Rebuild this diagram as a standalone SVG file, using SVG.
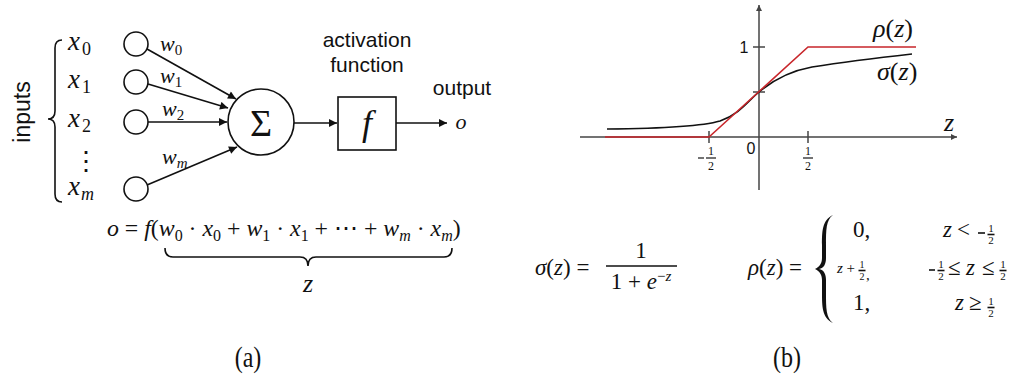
<svg xmlns="http://www.w3.org/2000/svg" width="1028" height="380" viewBox="0 0 1028 380">
<defs>
<style>
.sans{font-family:"Liberation Sans",Arial,sans-serif;fill:#111}
.m{font-family:"Liberation Serif","Times New Roman",serif;fill:#111}
.i{font-style:italic}
.ln{stroke:#111;stroke-width:1.6;fill:none}
.ax{stroke:#444;stroke-width:1.5;fill:none}
.red{stroke:#c8262b;stroke-width:1.6;fill:none}
</style>
<marker id="ah" viewBox="0 0 10 10" refX="10" refY="5" markerWidth="9" markerHeight="8" markerUnits="userSpaceOnUse" orient="auto">
<path d="M0,0 L10,5 L0,10 z" fill="#111"/>
</marker>
<marker id="ah2" viewBox="0 0 10 10" refX="10" refY="5" markerWidth="7" markerHeight="6" markerUnits="userSpaceOnUse" orient="auto">
<path d="M0,0 L10,5 L0,10 z" fill="#444"/>
</marker>
</defs>
<rect width="1028" height="380" fill="#fff"/>

<!-- Panel (a) -->
<g id="inputs-label">
<text class="sans" font-size="23" transform="translate(30,112) rotate(-90)" text-anchor="middle">inputs</text>
<path class="ln" stroke-width="1.3" d="M62,40 Q55,40 55,48 L55,111 Q55,119 48,119 Q55,119 55,127 L55,194 Q55,202 62,202"/>
</g>
<g id="x-labels" class="m i" font-size="27">
<text x="68" y="50">x<tspan font-style="normal" font-size="18" dx="2" dy="5">0</tspan></text>
<text x="68" y="88">x<tspan font-style="normal" font-size="18" dx="2" dy="5">1</tspan></text>
<text x="68" y="127">x<tspan font-style="normal" font-size="18" dx="2" dy="5">2</tspan></text>
<text x="73" y="170" font-style="normal" font-size="26">⋮</text>
<text x="68" y="195">x<tspan font-size="18" dx="1" dy="5">m</tspan></text>
</g>
<g id="in0"><circle class="ln" cx="136" cy="44" r="12"/></g>
<g id="in1"><circle class="ln" cx="136" cy="82" r="12"/></g>
<g id="in2"><circle class="ln" cx="136" cy="122" r="12"/></g>
<g id="inm"><circle class="ln" cx="136" cy="189" r="12"/></g>
<g id="sum">
<circle class="ln" cx="261" cy="122" r="33"/>
<text class="m" x="261" y="136" font-size="38" text-anchor="middle">Σ</text>
</g>
<g id="act">
<text class="sans" x="367" y="47" font-size="21" text-anchor="middle">activation</text>
<text class="sans" x="367" y="72" font-size="21" text-anchor="middle">function</text>
<rect class="ln" x="338" y="97" width="58" height="53"/>
<text class="m i" x="367" y="135" font-size="36" text-anchor="middle">f</text>
</g>
<g id="out">
<text class="sans" x="462" y="95" font-size="21" text-anchor="middle">output</text>
<text class="m i" x="461" y="129" font-size="22" text-anchor="middle">o</text>
</g>
<g id="connectors">
<line class="ln" x1="147" y1="49" x2="236" y2="99" marker-end="url(#ah)"/>
<line class="ln" x1="148" y1="84" x2="228" y2="108" marker-end="url(#ah)"/>
<line class="ln" x1="148" y1="122" x2="227" y2="122" marker-end="url(#ah)"/>
<line class="ln" x1="147" y1="185" x2="237" y2="147" marker-end="url(#ah)"/>
<line class="ln" x1="294" y1="123" x2="337" y2="123" marker-end="url(#ah)"/>
<line class="ln" x1="396" y1="123" x2="447" y2="123" marker-end="url(#ah)"/>
</g>
<g id="weights" class="m i" font-size="22">
<text x="160" y="51">w<tspan font-style="normal" font-size="15" dy="4">0</tspan></text>
<text x="160" y="83">w<tspan font-style="normal" font-size="15" dy="4">1</tspan></text>
<text x="162" y="116">w<tspan font-style="normal" font-size="15" dy="4">2</tspan></text>
<text x="162" y="164">w<tspan font-size="15" dy="4">m</tspan></text>
</g>
<g id="formula-a" class="m" font-size="23.8">
<text x="107" y="236"><tspan class="i">o</tspan> = <tspan class="i">f</tspan>(<tspan class="i">w</tspan><tspan font-size="16" dy="5">0</tspan><tspan dy="-5"> · </tspan><tspan class="i">x</tspan><tspan font-size="16" dy="5">0</tspan><tspan dy="-5"> + </tspan><tspan class="i">w</tspan><tspan font-size="16" dy="5">1</tspan><tspan dy="-5"> · </tspan><tspan class="i">x</tspan><tspan font-size="16" dy="5">1</tspan><tspan dy="-5"> + ⋯ + </tspan><tspan class="i">w</tspan><tspan class="i" font-size="16" dy="5">m</tspan><tspan dy="-5"> · </tspan><tspan class="i">x</tspan><tspan class="i" font-size="16" dy="5">m</tspan><tspan dy="-5">)</tspan></text>
<path class="ln" stroke-width="1.3" d="M165,248 Q165,257 173,257 L300,257 Q308,257 308,266 Q308,257 316,257 L444,257 Q452,257 452,248"/>
<text class="i" x="308" y="292" font-size="26" text-anchor="middle">z</text>
</g>
<text class="m" font-size="24" text-anchor="middle" transform="translate(248,367) scale(1,1.25)">(a)</text>

<!-- Panel (b) -->
<g id="axes">
<line class="ax" x1="580" y1="137" x2="957" y2="137" marker-end="url(#ah2)"/>
<line class="ax" x1="759" y1="190" x2="759" y2="5" marker-end="url(#ah2)"/>
<line class="ax" x1="753" y1="47" x2="765" y2="47"/>
<line class="ax" x1="753" y1="92" x2="765" y2="92"/>
<line class="ax" x1="709" y1="131" x2="709" y2="143"/>
<line class="ax" x1="808" y1="131" x2="808" y2="143"/>
<text class="sans" x="744" y="53" font-size="16" text-anchor="middle">1</text>
<text class="sans" x="751" y="154" font-size="16" text-anchor="middle">0</text>
<g class="m" font-size="12" text-anchor="middle">
<text x="711" y="155">1</text>
<line class="ax" stroke-width="1" x1="706" y1="158" x2="716" y2="158"/>
<text x="711" y="170">2</text>
<line class="ax" stroke-width="1" x1="698" y1="158" x2="704" y2="158"/>
<text x="808" y="155">1</text>
<line class="ax" stroke-width="1" x1="803" y1="158" x2="813" y2="158"/>
<text x="808" y="170">2</text>
</g>
<text class="m i" x="949" y="131" font-size="26" text-anchor="middle">z</text>
</g>
<g id="sigmoid">
<path class="ln" stroke-width="1.5" d="M607,129 C660,128.5 700,127 720,121 C740,114 748,101 759,92 C772,81 790,71 812,67 C850,61 885,57 912,54"/>
<text class="m" x="877" y="80" font-size="26"><tspan class="i">σ</tspan>(<tspan class="i">z</tspan>)</text>
</g>
<g id="relu">
<polyline class="red" points="605,137 709,137 808,47 916,47"/>
<text class="m" x="873" y="37" font-size="26"><tspan class="i">ρ</tspan>(<tspan class="i">z</tspan>)</text>
</g>
<g id="formula-sigma" class="m" font-size="23">
<text x="535" y="275"><tspan class="i">σ</tspan>(<tspan class="i">z</tspan>) =</text>
<text x="641" y="258" text-anchor="middle">1</text>
<line class="ln" stroke-width="1.2" x1="606" y1="266" x2="677" y2="266"/>
<text x="641" y="289" text-anchor="middle">1 + <tspan class="i">e</tspan><tspan font-size="15" dy="-8">−</tspan><tspan class="i" font-size="15">z</tspan></text>
</g>
<g id="formula-rho" class="m" font-size="23">
<text x="748" y="275"><tspan class="i">ρ</tspan>(<tspan class="i">z</tspan>) =</text>
<path d="M833,215 C822,220 822,232 822,245 L822,258 C822,264 819,267 815,269 C819,271 822,274 822,280 L822,293 C822,306 822,318 833,323 C826,318 826,308 826,293 L826,280 C826,274 824,270 819,269 C824,268 826,264 826,258 L826,245 C826,230 826,220 833,215 z" fill="#111"/>
<text x="853" y="237">0,</text>
<text class="i" x="943" y="237">z</text>
<text x="957" y="237">&lt;</text>
<line class="ln" stroke-width="1" x1="978" y1="233" x2="985" y2="233"/>
<text x="991" y="232" font-size="11" text-anchor="middle">1</text>
<line class="ln" stroke-width="0.8" x1="987.5" y1="234.5" x2="994.5" y2="234.5"/>
<text x="991" y="244" font-size="11" text-anchor="middle">2</text>

<text x="837" y="273" font-size="15"><tspan class="i">z</tspan> +</text>
<text x="862" y="268" font-size="10" text-anchor="middle">1</text>
<line class="ln" stroke-width="0.8" x1="858.5" y1="270.5" x2="865.5" y2="270.5"/>
<text x="862" y="280" font-size="10" text-anchor="middle">2</text>
<text x="866" y="280" font-size="15">,</text>

<line class="ln" stroke-width="1" x1="929" y1="270" x2="935" y2="270"/>
<text x="941" y="268" font-size="11" text-anchor="middle">1</text>
<line class="ln" stroke-width="0.8" x1="937.5" y1="270.5" x2="944.5" y2="270.5"/>
<text x="941" y="280" font-size="11" text-anchor="middle">2</text>
<text x="948" y="275">≤</text>
<text class="i" x="966" y="275">z</text>
<text x="982" y="275">≤</text>
<text x="1003" y="268" font-size="11" text-anchor="middle">1</text>
<line class="ln" stroke-width="0.8" x1="999.5" y1="270.5" x2="1006.5" y2="270.5"/>
<text x="1003" y="280" font-size="11" text-anchor="middle">2</text>

<text x="853" y="310">1,</text>
<text class="i" x="955" y="310">z</text>
<text x="969" y="310">≥</text>
<text x="991" y="305" font-size="11" text-anchor="middle">1</text>
<line class="ln" stroke-width="0.8" x1="987.5" y1="307.5" x2="994.5" y2="307.5"/>
<text x="991" y="317" font-size="11" text-anchor="middle">2</text>
</g>
<text class="m" font-size="24" text-anchor="middle" transform="translate(787,367) scale(1,1.25)">(b)</text>
</svg>
